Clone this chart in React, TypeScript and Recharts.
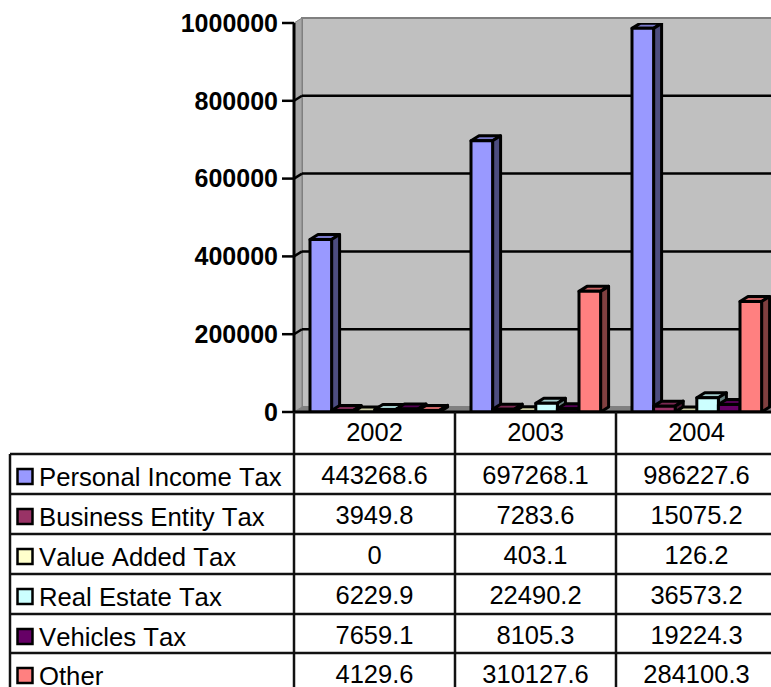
import React from "react";
import { BarChart, Bar, XAxis, YAxis, CartesianGrid } from "recharts";

const years = ["2002", "2003", "2004"];
const seriesNames = ["Personal Income Tax", "Business Entity Tax", "Value Added Tax", "Real Estate Tax", "Vehicles Tax", "Other"];
const personalIncome = [443268.6, 697268.1, 986227.6];
const businessEntity = [3949.8, 7283.6, 15075.2];
const valueAdded = [0, 403.1, 126.2];
const realEstate = [6229.9, 22490.2, 36573.2];
const vehicles = [7659.1, 8105.3, 19224.3];
const other = [4129.6, 310127.6, 284100.3];
const yTicks = [0, 200000, 400000, 600000, 800000, 1000000];

const allSeries = [personalIncome, businessEntity, valueAdded, realEstate, vehicles, other];
const tableText = [
  ["443268.6", "697268.1", "986227.6"],
  ["3949.8", "7283.6", "15075.2"],
  ["0", "403.1", "126.2"],
  ["6229.9", "22490.2", "36573.2"],
  ["7659.1", "8105.3", "19224.3"],
  ["4129.6", "310127.6", "284100.3"],
];
const fronts = ["#9999FF", "#993366", "#FFFFCC", "#CCFFFF", "#660066", "#FF8080"];
const tops = ["#7A7ACC", "#7A2952", "#CCCCA3", "#A3CCCC", "#520052", "#CC6666"];
const sides = ["#4D4D80", "#4D1A33", "#808066", "#668080", "#330033", "#804040"];

const data = years.map((year, i) => {
  const row: Record<string, string | number> = { year };
  seriesNames.forEach((n, s) => { row[n] = allSeries[s][i]; });
  return row;
});

const FONT = '"Liberation Sans", Arial, sans-serif';
const DX = 8;
const DY = 5;
const LEFT = 294;
const TOP = 23;
const BASE = 412;
const COLS = [294, 455, 616, 777];
const ROWS = [454, 494, 534, 574, 614, 653, 700];

const bar3d = (s: number) => (p: any) => {
  const { x, y, width, height } = p;
  const r = x + width;
  const b = y + height;
  return (
    <g stroke="#000" strokeWidth={3} strokeLinejoin="round">
      <polygon points={`${x},${y} ${x + DX},${y - DY} ${r + DX},${y - DY} ${r},${y}`} fill={tops[s]} />
      <polygon points={`${r},${y} ${r + DX},${y - DY} ${r + DX},${b - DY} ${r},${b}`} fill={sides[s]} />
      <rect x={x} y={y} width={width} height={height} fill={fronts[s]} />
    </g>
  );
};

const Wall = () => (
  <svg width={771} height={687} style={{ position: "absolute", left: 0, top: 0 }}>
    <rect x={LEFT + DX} y={TOP - DY} width={500} height={BASE - TOP} fill="#C0C0C0" stroke="#808080" strokeWidth={2} />
    <polygon points={`${LEFT},${TOP} ${LEFT + DX},${TOP - DY} ${LEFT + DX},${BASE - DY} ${LEFT},${BASE}`} fill="#A6A6A6" stroke="#808080" strokeWidth={1} />
    <polygon points={`${LEFT},${BASE} ${LEFT + DX},${BASE - DY} 800,${BASE - DY} 800,${BASE}`} fill="#808080" />
  </svg>
);

const gridLine = (p: any) => {
  const y = p.y1;
  const key = `g${y}`;
  if (y < TOP + 2 || y > BASE - 2) return <g key={key} />;
  return (
    <g key={key} stroke="#000" strokeWidth={2.5}>
      <line x1={LEFT} y1={y} x2={LEFT + DX} y2={y - DY} />
      <line x1={LEFT + DX} y1={y - DY} x2={800} y2={y - DY} />
    </g>
  );
};

const Table = () => (
  <svg width={771} height={687} style={{ position: "absolute", left: 0, top: 0 }}>
    <g stroke="#111" strokeWidth={2.5}>
      {ROWS.slice(0, 6).map((y) => <line key={y} x1={10} y1={y} x2={771} y2={y} />)}
      <line x1={10} y1={ROWS[0]} x2={10} y2={687} />
      {COLS.slice(0, 3).map((x) => <line key={x} x1={x} y1={BASE} x2={x} y2={687} />)}
    </g>
    {seriesNames.map((n, i) => (
      <g key={n}>
        <rect x={17.5} y={ROWS[i] + 15} width={15} height={15} fill={fronts[i]} stroke="#000" strokeWidth={2.5} />
        <text x={39} y={ROWS[i] + 32} fontFamily={FONT} fontSize={25.7} fill="#000" style={{ fontKerning: "none" }}>{n}</text>
        {tableText[i].map((t, c) => (
          <text key={c} x={(COLS[c] + COLS[c + 1]) / 2} y={ROWS[i] + 30} textAnchor="middle" fontFamily={FONT} fontSize={25.5} fill="#000">{t}</text>
        ))}
      </g>
    ))}
  </svg>
);

export default function App() {
  return (
    <div style={{ position: "absolute", left: 0, top: 0, width: 771, height: 687, overflow: "hidden", background: "#fff" }}>
      <Wall />
      <div style={{ position: "absolute", left: 0, top: 0 }}>
        <BarChart
          width={800}
          height={687}
          data={data}
          margin={{ top: TOP, left: 190, right: 23, bottom: 235 }}
          barCategoryGap={16}
          barGap={0}
          barSize={21.6}
        >
          <CartesianGrid vertical={false} horizontal={gridLine} stroke="#000" />
          <XAxis
            dataKey="year"
            height={40}
            tickLine={false}
            axisLine={{ stroke: "#000", strokeWidth: 3 }}
            tick={{ fontFamily: FONT, fontSize: 25.5, fill: "#000" }}
            tickMargin={5}
            interval={0}
          />
          <YAxis
            width={104}
            domain={[0, 1000000]}
            ticks={yTicks}
            allowDataOverflow
            tick={{ fontFamily: FONT, fontSize: 25, fontWeight: 700, fill: "#000" }}
            tickSize={12}
            tickMargin={4}
            tickLine={{ stroke: "#000", strokeWidth: 2.5 }}
            axisLine={{ stroke: "#000", strokeWidth: 3 }}
          />
          {seriesNames.map((n, s) => (
            <Bar key={n} dataKey={n} isAnimationActive={false} shape={bar3d(s)} />
          ))}
        </BarChart>
      </div>
      <Table />
    </div>
  );
}
